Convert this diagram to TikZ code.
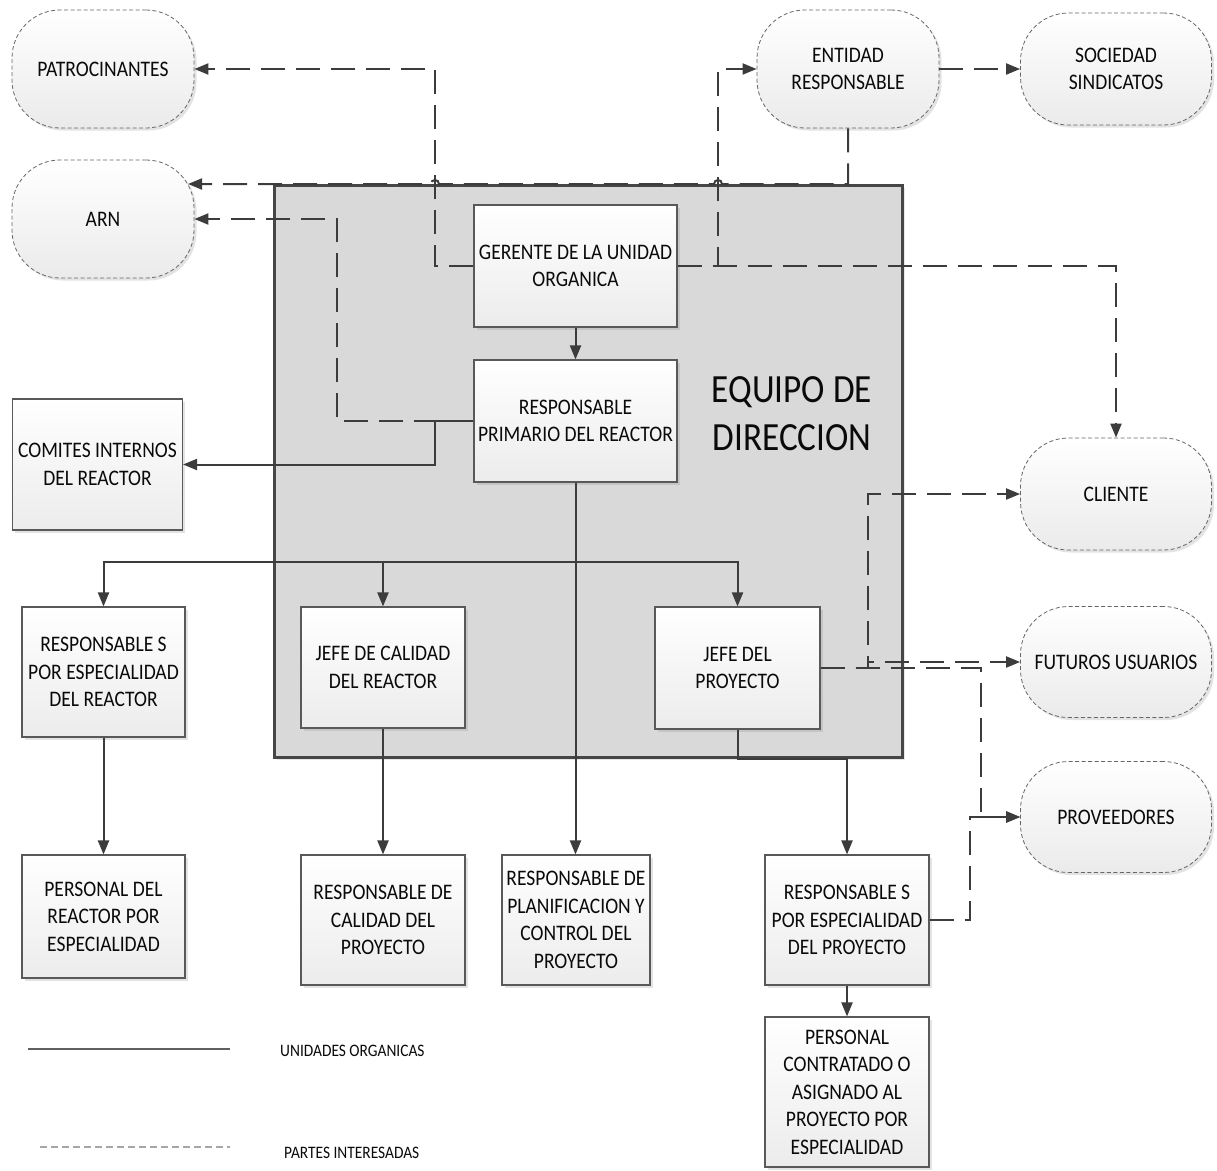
\documentclass[tikz,border=0pt]{standalone}
\usepackage{fontspec}
\setmainfont{Carlito}[FakeStretch=0.88]
\usetikzlibrary{arrows.meta,shadows}
\definecolor{ink}{HTML}{3C3C3C}
\definecolor{txt}{HTML}{0A0A0A}
\definecolor{panelgray}{HTML}{D9D9D9}
\begin{document}
\begin{tikzpicture}[x=1pt,y=-1pt,
  font=\fontsize{22.2}{27.5}\selectfont, text=txt,
  softshadow/.style={drop shadow={shadow xshift=2.5pt,shadow yshift=-2.5pt,opacity=0.22,fill=gray}},
  unitbox/.style={draw=ink!85, line width=1.1pt, top color=white, bottom color=gray!15,
    align=center, inner sep=0pt, softshadow},
  partybox/.style={draw=gray!80!black, line width=0.8pt, dash pattern=on 4pt off 2.5pt,
    rounded corners=48pt, top color=white, bottom color=gray!16,
    align=center, inner sep=0pt, softshadow},
  teampanel/.style={draw=ink!95, line width=3pt, fill=panelgray, inner sep=0pt,
    drop shadow={shadow xshift=3pt,shadow yshift=-3pt,opacity=0.18,fill=gray}},
  org/.style={draw=ink, line width=2pt, -{Triangle[length=14pt,width=11pt]}},
  stake/.style={draw=ink, line width=2pt, dash pattern=on 24pt off 11pt,
    -{Triangle[length=14pt,width=11pt]}},
]
\useasboundingbox (0,0) rectangle (1217,1170);

% management team panel
\node[teampanel, minimum width=628pt, minimum height=572pt] (team) at (588,471) {};
\node[font=\fontsize{40}{48}\selectfont, anchor=base, inner sep=0pt] (teamA) at (792,402) {EQUIPO DE};
\node[font=\fontsize{40}{48}\selectfont, anchor=base, inner sep=0pt] (teamB) at (792,450) {DIRECCION};

% stakeholders
\node[partybox, minimum width=182pt, minimum height=118pt] (pat) at (103,69) {PATROCINANTES};
\node[partybox, minimum width=182pt, minimum height=118pt] (arn) at (103,219) {ARN};
\node[partybox, minimum width=182pt, minimum height=118pt] (ent) at (848,69) {ENTIDAD\\RESPONSABLE};
\node[partybox, minimum width=191pt, minimum height=112pt] (soc) at (1116,69) {SOCIEDAD\\SINDICATOS};
\node[partybox, minimum width=191pt, minimum height=112pt] (cli) at (1116,494) {CLIENTE};
\node[partybox, minimum width=191pt, minimum height=111pt] (fut) at (1116,662) {FUTUROS USUARIOS};
\node[partybox, minimum width=191pt, minimum height=111pt] (prov) at (1116,817) {PROVEEDORES};

% organisational units
\node[unitbox, minimum width=203pt, minimum height=122pt] (ger) at (575.5,266) {GERENTE DE LA UNIDAD\\ORGANICA};
\node[unitbox, minimum width=203pt, minimum height=122pt] (rp) at (575.5,421) {RESPONSABLE\\PRIMARIO DEL REACTOR};
\node[unitbox, minimum width=170pt, minimum height=131pt] (com) at (97.5,464.5) {COMITES INTERNOS\\DEL REACTOR};
\node[unitbox, minimum width=163pt, minimum height=130pt] (rsr) at (103.5,672) {RESPONSABLE S\\POR ESPECIALIDAD\\DEL REACTOR};
\node[unitbox, minimum width=164pt, minimum height=121pt] (jcal) at (383,667.5) {JEFE DE CALIDAD\\DEL REACTOR};
\node[unitbox, minimum width=165pt, minimum height=122pt] (jpro) at (737.5,668) {JEFE DEL\\PROYECTO};
\node[unitbox, minimum width=163pt, minimum height=123pt] (prr) at (103.5,916.5) {PERSONAL DEL\\REACTOR POR\\ESPECIALIDAD};
\node[unitbox, minimum width=164pt, minimum height=130pt] (rcp) at (383,920) {RESPONSABLE DE\\CALIDAD DEL\\PROYECTO};
\node[unitbox, minimum width=148pt, minimum height=130pt] (plan) at (576,920) {RESPONSABLE DE\\PLANIFICACION Y\\CONTROL DEL\\PROYECTO};
\node[unitbox, minimum width=164pt, minimum height=130pt] (rsp) at (847,920) {RESPONSABLE S\\POR ESPECIALIDAD\\DEL PROYECTO};
\node[unitbox, minimum width=164pt, minimum height=150pt] (pcon) at (847,1092) {PERSONAL\\CONTRATADO O\\ASIGNADO AL\\PROYECTO POR\\ESPECIALIDAD};

% reporting lines (solid)
\coordinate (bus) at (575.5,562);
\draw[org] (ger.south) -- (rp.north);
\draw[org] (rp.west) -- (435,421) |- (com.east);
\draw[org] (rp.south) -- (rp.south |- plan.north);
\draw[org] (bus) -| (rsr.north);
\draw[org] (bus) -| (jcal.north);
\draw[org] (bus) -| (jpro.north);
\draw[org] (jcal.south) -- (rcp.north);
\draw[org] (jpro.south) -- (737.5,759) -| (rsp.north);
\draw[org] (rsr.south) -- (prr.north);
\draw[org] (rsp.south) -- (pcon.north);

% stakeholder links (dashed)
\coordinate (arnhook) at (188,184);
\draw[stake] (ger.west) -- (435,266) |- (pat.east);
\draw[stake] (ent.south) -- (848,184) -- (722,184)
  .. controls (722,178.7) and (714,178.7) .. (714,184) -- (439,184)
  .. controls (439,178.7) and (431,178.7) .. (431,184) -- (arnhook);
\draw[stake] (rp.west) -- (337,421) |- (arn.east);
\draw[stake] (ger.east) -| (cli.north);
\draw[stake] (ger.east) -- (718,266) |- (ent.west);
\draw[stake] (ent.east) -- (soc.west);
\draw[stake] (jpro.east) -- (868,668) |- (cli.west);
\draw[stake] (jpro.east) -- (868,668) |- (fut.west);
\draw[stake] (jpro.east) -- (981,668) |- (prov.west);
\draw[stake] (rsp.east) -- (970,920) |- (prov.west);

% legend
\coordinate (legA1) at (28,1049);
\coordinate (legA2) at (230,1049);
\coordinate (legB1) at (40,1147);
\coordinate (legB2) at (230,1147);
\draw[gray!75!black, line width=1.5pt] (legA1) -- (legA2);
\draw[gray!70, line width=1.2pt, dash pattern=on 7pt off 4pt] (legB1) -- (legB2);
\node[anchor=base west, inner sep=0pt, font=\fontsize{17.5}{20}\selectfont] (legAt) at (280,1056) {UNIDADES ORGANICAS};
\node[anchor=base west, inner sep=0pt, font=\fontsize{17.5}{20}\selectfont] (legBt) at (284,1158) {PARTES INTERESADAS};
\end{tikzpicture}
\end{document}
